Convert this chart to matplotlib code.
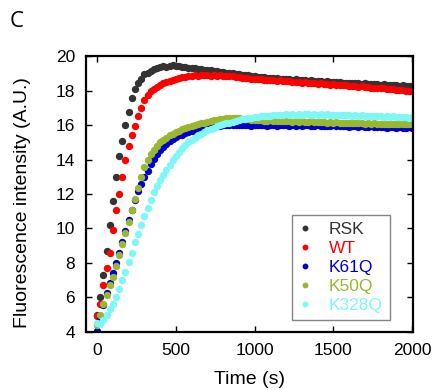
import numpy as np
import matplotlib
matplotlib.use('Agg')
from matplotlib import pyplot as plt

plt.rcParams['font.family'] = ['Liberation Sans', 'DejaVu Sans']

# sampling every 20 s from 0 to 2000 s
time_s = np.arange(0, 2001, 20)

rsk = [5.0, 6.0, 7.3, 8.7, 10.2, 11.6, 13.0, 14.2, 15.1, 16.0,
       16.75, 17.55, 18.1, 18.45, 18.7, 18.95, 19.05, 19.15, 19.25, 19.3,
       19.35, 19.4, 19.38, 19.45, 19.47, 19.42, 19.4, 19.38, 19.35, 19.33,
       19.3, 19.32, 19.27, 19.25, 19.22, 19.2, 19.18, 19.15, 19.12, 19.1,
       19.08, 19.05, 19.0, 19.02, 18.97, 18.95, 18.93, 18.9, 18.88, 18.85,
       18.82, 18.8, 18.78, 18.8, 18.75, 18.73, 18.72, 18.75, 18.7, 18.68,
       18.7, 18.66, 18.64, 18.67, 18.62, 18.6, 18.62, 18.58, 18.6, 18.56,
       18.55, 18.57, 18.52, 18.54, 18.5, 18.52, 18.48, 18.5, 18.46, 18.47,
       18.44, 18.45, 18.42, 18.43, 18.4, 18.42, 18.38, 18.4, 18.36, 18.37,
       18.34, 18.36, 18.32, 18.33, 18.3, 18.32, 18.28, 18.3, 18.26, 18.27,
       18.24]

wt = [4.9, 5.6, 6.7, 7.7, 8.6, 9.9, 11.1, 12.0, 13.0, 13.95,
      14.8, 15.4, 15.95, 16.5, 17.0, 17.45, 17.75, 17.95, 18.08, 18.2,
      18.32, 18.42, 18.5, 18.57, 18.63, 18.68, 18.72, 18.78, 18.8, 18.84,
      18.85, 18.88, 18.86, 18.9, 18.88, 18.9, 18.87, 18.9, 18.86, 18.88,
      18.85, 18.86, 18.82, 18.84, 18.8, 18.78, 18.75, 18.76, 18.72, 18.7,
      18.68, 18.66, 18.68, 18.64, 18.62, 18.63, 18.6, 18.58, 18.6, 18.55,
      18.53, 18.55, 18.5, 18.52, 18.48, 18.46, 18.48, 18.44, 18.45, 18.42,
      18.4, 18.42, 18.37, 18.38, 18.35, 18.36, 18.32, 18.33, 18.3, 18.31,
      18.28, 18.26, 18.27, 18.23, 18.24, 18.2, 18.22, 18.18, 18.16, 18.17,
      18.13, 18.14, 18.1, 18.08, 18.09, 18.05, 18.06, 18.02, 18.0, 17.98,
      17.95]

k61q = [4.05, 4.8, 5.55, 6.25, 6.85, 7.4, 8.0, 8.6, 9.2, 9.85,
        10.5, 11.1, 11.65, 12.15, 12.6, 13.0, 13.35, 13.75, 14.05, 14.3,
        14.55, 14.75, 14.9, 15.05, 15.2, 15.3, 15.4, 15.45, 15.55, 15.6,
        15.65, 15.7, 15.75, 15.8, 15.85, 15.88, 15.9, 15.93, 15.95, 15.97,
        16.0, 15.98, 16.02, 16.0, 16.03, 16.0, 15.98, 16.02, 16.0, 15.97,
        16.01, 15.98, 16.03, 15.99, 15.96, 16.0, 16.02, 15.97, 15.99, 16.01,
        15.98, 15.95, 16.0, 15.97, 16.01, 15.96, 15.98, 16.0, 15.95, 15.97,
        15.99, 15.94, 15.97, 15.96, 15.93, 15.98, 15.95, 15.92, 15.96, 15.94,
        15.91, 15.95, 15.92, 15.9, 15.94, 15.91, 15.88, 15.92, 15.9, 15.87,
        15.91, 15.88, 15.86, 15.9, 15.87, 15.85, 15.89, 15.86, 15.84, 15.88,
        15.85]

k50q = [4.4, 5.0, 5.6, 6.15, 6.7, 7.2, 7.8, 8.45, 9.1, 9.75,
        10.4, 11.05, 11.7, 12.35, 13.0, 13.55, 13.95, 14.3, 14.55, 14.8,
        15.0, 15.15, 15.28, 15.4, 15.5, 15.6, 15.68, 15.75, 15.82, 15.88,
        15.93, 15.98, 16.05, 16.1, 16.15, 16.2, 16.25, 16.28, 16.32, 16.35,
        16.38, 16.4, 16.42, 16.43, 16.42, 16.4, 16.38, 16.36, 16.35, 16.32,
        16.3, 16.28, 16.3, 16.26, 16.25, 16.27, 16.23, 16.24, 16.22, 16.25,
        16.21, 16.23, 16.2, 16.22, 16.19, 16.21, 16.2, 16.18, 16.21, 16.17,
        16.19, 16.16, 16.18, 16.15, 16.17, 16.14, 16.16, 16.13, 16.15, 16.12,
        16.14, 16.11, 16.13, 16.1, 16.12, 16.09, 16.11, 16.08, 16.1, 16.07,
        16.09, 16.06, 16.08, 16.05, 16.07, 16.05, 16.08, 16.04, 16.06, 16.05,
        16.07]

k328q = [4.5, 4.45, 4.7, 5.0, 5.3, 5.6, 6.0, 6.5, 7.0, 7.5,
         8.05, 8.6, 9.2, 9.7, 10.2, 10.7, 11.2, 11.65, 12.1, 12.45,
         12.8, 13.1, 13.4, 13.7, 13.95, 14.2, 14.45, 14.65, 14.85, 15.0,
         15.15, 15.28, 15.4, 15.5, 15.6, 15.7, 15.78, 15.85, 15.92, 15.98,
         16.04, 16.1, 16.15, 16.2, 16.25, 16.3, 16.33, 16.37, 16.4, 16.42,
         16.45, 16.48, 16.5, 16.52, 16.53, 16.55, 16.57, 16.58, 16.6, 16.6,
         16.62, 16.6, 16.63, 16.61, 16.64, 16.6, 16.62, 16.65, 16.61, 16.63,
         16.6, 16.62, 16.59, 16.63, 16.6, 16.58, 16.61, 16.57, 16.6, 16.56,
         16.58, 16.55, 16.57, 16.54, 16.56, 16.52, 16.55, 16.51, 16.53, 16.5,
         16.52, 16.49, 16.51, 16.47, 16.5, 16.46, 16.48, 16.45, 16.47, 16.44,
         16.46]

labels = ['RSK', 'WT', 'K61Q', 'K50Q', 'K328Q']
colors = ['#333333', '#ff0000', '#0000cc', '#99b82f', '#7ff7f7']
series = [rsk, wt, k61q, k50q, k328q]

fig = plt.figure(figsize=(4.35, 3.9), dpi=100)
ax = fig.add_axes([0.198, 0.149, 0.751, 0.707])

for vals, lab, col in zip(series, labels, colors):
    ax.plot(time_s, vals, 'o', ms=5.3, color=col, mec='none', label=lab)

ax.set_xlim(-70, 2005)
ax.set_ylim(4, 20)
ax.set_xticks([0, 500, 1000, 1500, 2000])
ax.set_yticks(range(4, 21, 2))
ax.tick_params(direction='in', top=True, right=True, length=4, width=1,
               labelsize=12.5, pad=8)
for sp in ax.spines.values():
    sp.set_linewidth(1.6)

ax.set_xlabel('Time (s)', fontsize=14, labelpad=9)
ax.set_ylabel('Fluorescence intensity (A.U.)', fontsize=14)
ax.yaxis.set_label_coords(-0.17, 0.47)

leg = ax.legend(loc='lower right', bbox_to_anchor=(0.945, 0.025), fontsize=12.5,
                frameon=True, fancybox=False, handlelength=0.6,
                handletextpad=1.1, borderpad=0.4, labelspacing=0.22,
                markerscale=0.8, borderaxespad=0.3)
leg.get_frame().set_edgecolor('#666666')
leg.get_frame().set_linewidth(1.0)
for txt, col in zip(leg.get_texts(), colors):
    txt.set_color(col)

fig.text(0.022, 0.93, 'C', fontsize=16, family=['Open Sans', 'DejaVu Sans'])

fig.savefig('out.png', dpi=100)
